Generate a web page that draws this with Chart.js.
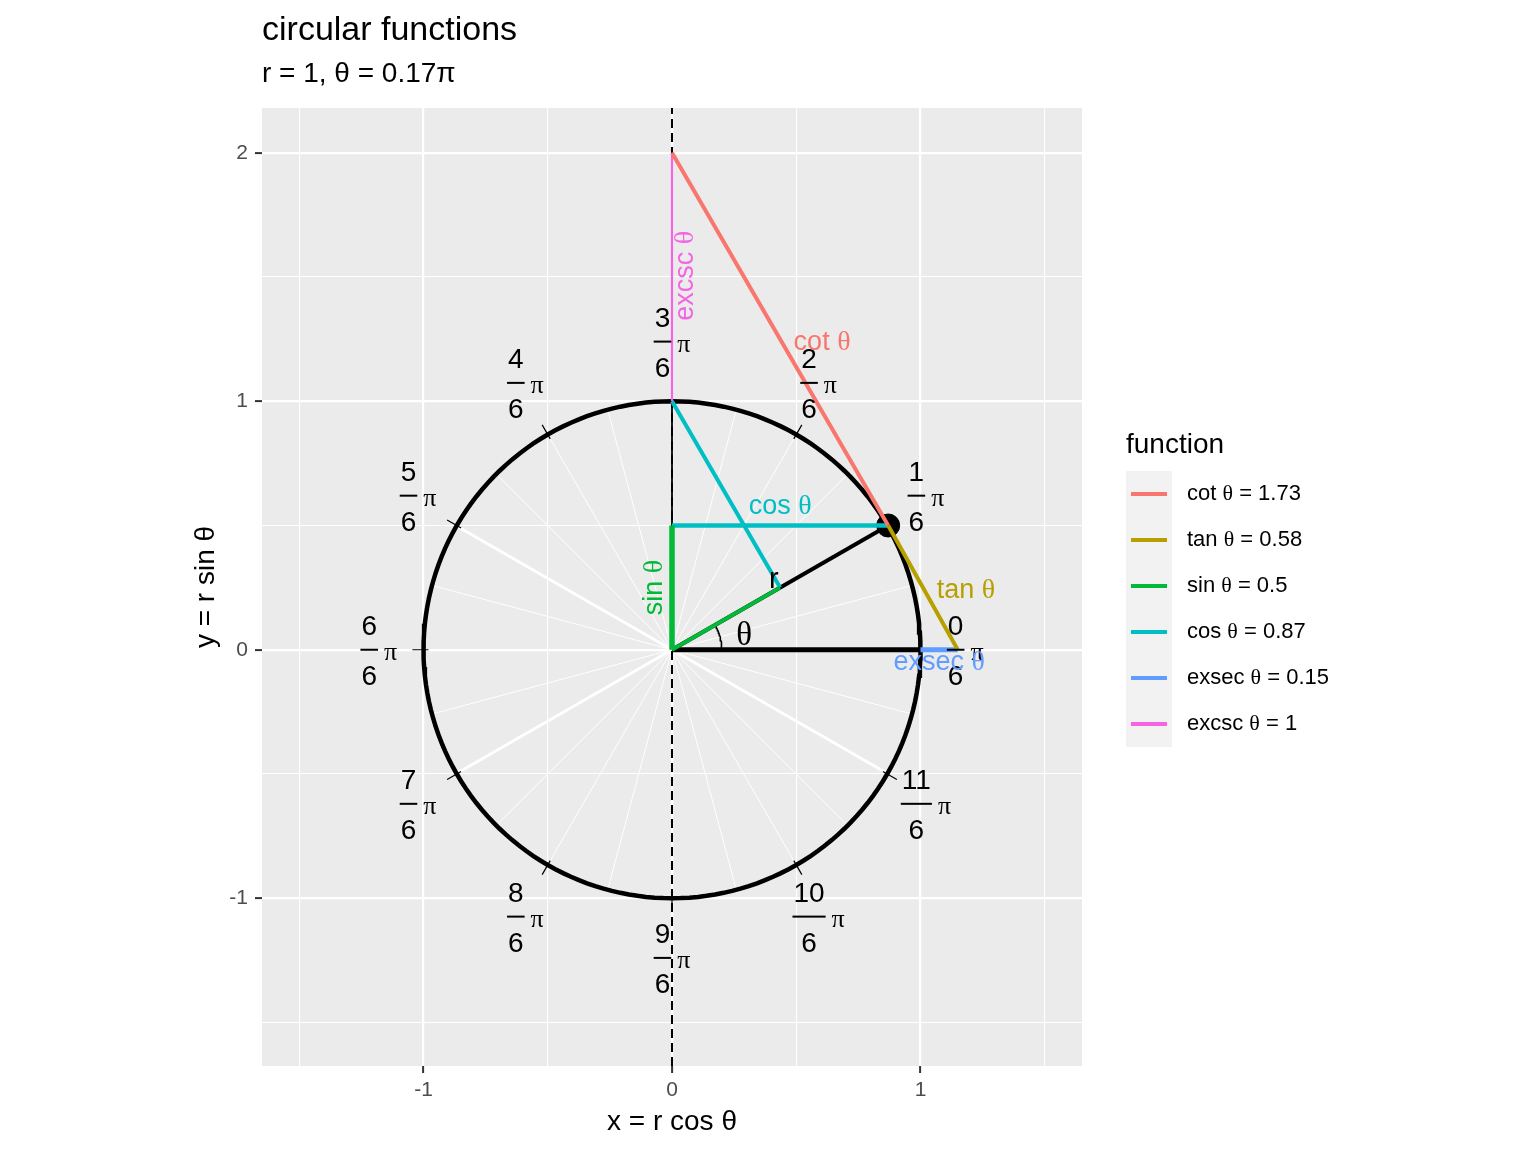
<!DOCTYPE html>
<html>
<head>
<meta charset="utf-8">
<title>circular functions</title>
<script src="https://cdn.jsdelivr.net/npm/chart.js@4.4.1/dist/chart.umd.min.js"></script>
<style>
  body { margin: 0; background: #fff; font-family: "Liberation Sans", Arial, sans-serif; }
  #wrap { position: relative; width: 1536px; height: 1152px; }
  #legend { position: absolute; left: 1126px; top: 424px; color: #000; }
  #legend .title { font-size: 28px; height: 47px; line-height: 40px; }
  #legend .keys { position: absolute; left: 0; top: 47px; width: 46px; background: #F2F2F2; }
  #legend .row { position: relative; height: 46px; width: 260px; }
  #legend .row i { position: absolute; left: 5px; top: 21px; width: 36px; height: 4px; }
  #legend .row span { position: absolute; left: 61px; top: 9px; font-size: 22px; line-height: 26px; white-space: nowrap; }
  .th { font-family: "Liberation Serif", "DejaVu Serif", serif; }
</style>
</head>
<body>
<div id="wrap">
  <canvas id="chart" width="1536" height="1152"></canvas>
  <div id="legend"></div>
</div>
<script>
(() => {
  // --- Data ---
  const R = 1;
  const THETA_PI = 0.17;                       // theta as a multiple of pi
  const FUNC_NAMES = ["cot", "tan", "sin", "cos", "exsec", "excsc"];
  const FUNC_VALUES = [1.73, 0.58, 0.5, 0.87, 0.15, 1];
  const FUNC_COLORS = ["#F8766D", "#B79F00", "#00BA38", "#00BFC4", "#619CFF", "#F564E3"];

  // angle labels round the circle: k/6 pi
  const ANGLE_NUMS = [0, 1, 2, 3, 4, 5, 6, 7, 8, 9, 10, 11];
  const ANGLE_DEN = 6;

  // in-panel text labels
  const LABEL_NAMES = ["excsc", "cot", "cos", "sin", "tan", "exsec"];
  const LABEL_X = [0.085, 0.604, 0.435, -0.04, 1.183, 1.075];
  const LABEL_Y = [1.505, 1.207, 0.547, 0.25, 0.209, -0.08];
  const LABEL_VERTICAL = [true, false, false, true, false, false];

  const X_TICKS = [-1.5, -1, -0.5, 0, 0.5, 1, 1.5];
  const Y_TICKS = [-1.5, -1, -0.5, 0, 0.5, 1, 1.5, 2];
  const X_RANGE = [-1.65, 1.65];
  const Y_RANGE = [-1.675, 2.18];

  const SANS = '"Liberation Sans", Arial, sans-serif';
  const SERIF = '"Liberation Serif", "DejaVu Serif", serif';

  const [COT, TAN, SIN, COS, EXSEC, EXCSC] = FUNC_VALUES;
  const SEC = R + EXSEC, CSC = R + EXCSC;
  const THETA = Math.atan2(SIN, COS);

  // --- Geometry helpers ---
  const polar = (r, a) => ({ x: r * Math.cos(a), y: r * Math.sin(a) });
  const GAP = { x: null, y: null };

  function arc(r, a0, a1, n) {
    const pts = [];
    for (let i = 0; i <= n; i++) pts.push(polar(r, a0 + (a1 - a0) * i / n));
    return pts;
  }

  function seg(data, color, width, order, extra) {
    return Object.assign({
      data, showLine: true, borderColor: color, backgroundColor: color,
      borderWidth: width, pointRadius: 0, pointHoverRadius: 0,
      tension: 0, fill: false, order, borderCapStyle: "butt"
    }, extra || {});
  }

  // spokes every 15 degrees, thicker ones at the reference angles of theta
  const thinSpokes = [], thickSpokes = [], circleTicks = [];
  for (let k = 0; k < 24; k++) {
    thinSpokes.push({ x: 0, y: 0 }, polar(R, k * Math.PI / 12), GAP);
  }
  [THETA, Math.PI - THETA, Math.PI + THETA, 2 * Math.PI - THETA].forEach(a => {
    thickSpokes.push({ x: 0, y: 0 }, polar(R, a), GAP);
  });
  ANGLE_NUMS.forEach(k => {
    const a = k * Math.PI / ANGLE_DEN;
    circleTicks.push(polar(0.98 * R, a), polar(1.045 * R, a), GAP);
  });

  const P = { x: COS, y: SIN };
  const MID = { x: SIN * COS, y: SIN * SIN };

  const datasets = [
    // legend functions (lower order draws on top)
    seg([P, { x: 0, y: CSC }], FUNC_COLORS[0], 4, 1, { label: "cot", inLegend: true }),
    seg([P, { x: SEC, y: 0 }], FUNC_COLORS[1], 4, 1, { label: "tan", inLegend: true }),
    seg([{ x: 0, y: 0 }, { x: 0, y: SIN }], FUNC_COLORS[2], 5.5, 2, { label: "sin", inLegend: true }),
    seg([{ x: 0, y: SIN }, P], FUNC_COLORS[3], 4.5, 2, { label: "cos", inLegend: true }),
    seg([{ x: R, y: 0 }, { x: SEC, y: 0 }], FUNC_COLORS[4], 5, 2, { label: "exsec", inLegend: true }),
    seg([{ x: 0, y: R }, { x: 0, y: CSC }], FUNC_COLORS[5], 2.2, 2, { label: "excsc", inLegend: true }),
    seg([{ x: 0, y: 0 }, MID], FUNC_COLORS[2], 4, 3),
    seg([{ x: 0, y: R }, MID], FUNC_COLORS[3], 4, 3),
    // point on the circle
    { data: [P], showLine: false, pointRadius: 11.5, pointHoverRadius: 11.5, backgroundColor: "#000", borderColor: "#000", order: 4 },
    // black construction lines
    seg([{ x: 0, y: 0 }, P], "#000", 4, 5),
    seg([{ x: 0, y: 0 }, { x: R, y: 0 }], "#000", 5, 5),
    seg([{ x: 0, y: SIN }, { x: 0, y: R }], "#000", 1.8, 5),
    seg(arc(0.2 * R, 0, THETA, 20), "#000", 1.6, 6),
    seg(arc(R, 0, 2 * Math.PI, 180), "#000", 4.5, 7),
    seg(circleTicks, "#000", 1.2, 8),
    seg([{ x: 0, y: Y_RANGE[0] }, { x: 0, y: Y_RANGE[1] }], "#000", 2, 9, { borderDash: [9, 5] }),
    seg(thickSpokes, "#FFFFFF", 2.8, 10),
    seg(thinSpokes, "#FFFFFF", 1, 11)
  ];

  const isMajor = v => Math.abs(v - Math.round(v)) < 1e-9;

  // --- Plugins ---
  const panelBg = {
    id: "panelBg",
    beforeDraw(chart) {
      const { ctx, chartArea: a } = chart;
      ctx.save();
      ctx.fillStyle = "#EBEBEB";
      ctx.fillRect(a.left, a.top, a.right - a.left, a.bottom - a.top);
      ctx.restore();
    }
  };

  function drawRich(ctx, parts, x, y, rot) {
    let w = 0;
    parts.forEach(p => { ctx.font = p.font; p.w = ctx.measureText(p.text).width; w += p.w; });
    ctx.save();
    ctx.translate(x, y);
    ctx.rotate(rot);
    ctx.textAlign = "left";
    ctx.textBaseline = "alphabetic";
    let cur = -w / 2;
    parts.forEach(p => { ctx.font = p.font; ctx.fillText(p.text, cur, 0); cur += p.w; });
    ctx.restore();
  }

  function drawFraction(ctx, num, den, cx, cy) {
    const numFont = "28px " + SANS, piFont = "26px " + SERIF;
    ctx.font = numFont;
    const barW = Math.max(ctx.measureText(num).width, ctx.measureText(den).width) + 2;
    ctx.font = piFont;
    const piW = ctx.measureText("π").width;
    const left = cx - (barW + 6 + piW) / 2;
    const mid = left + barW / 2;
    ctx.fillStyle = "#000";
    ctx.fillRect(left, cy - 1, barW, 2);
    ctx.font = numFont;
    ctx.textAlign = "center";
    ctx.textBaseline = "alphabetic";
    ctx.fillText(num, mid, cy - 15);
    ctx.fillText(den, mid, cy + 35);
    ctx.font = piFont;
    ctx.textAlign = "left";
    ctx.fillText("π", left + barW + 6, cy + 10);
  }

  const panelText = {
    id: "panelText",
    afterDatasetsDraw(chart) {
      const { ctx, scales: { x, y } } = chart;
      ctx.save();
      // angle labels
      ANGLE_NUMS.forEach(k => {
        const a = k * Math.PI / ANGLE_DEN;
        drawFraction(ctx, String(k), String(ANGLE_DEN),
          x.getPixelForValue(1.18 * R * Math.cos(a)), y.getPixelForValue(1.24 * R * Math.sin(a)));
      });
      // function labels
      LABEL_NAMES.forEach((name, i) => {
        ctx.fillStyle = FUNC_COLORS[FUNC_NAMES.indexOf(name)];
        drawRich(ctx, [
          { text: name + " ", font: "27px " + SANS },
          { text: "θ", font: "28px " + SERIF }
        ], x.getPixelForValue(LABEL_X[i]), y.getPixelForValue(LABEL_Y[i]), LABEL_VERTICAL[i] ? -Math.PI / 2 : 0);
      });
      ctx.fillStyle = "#000";
      drawRich(ctx, [{ text: "r", font: "29px " + SANS }], x.getPixelForValue(0.41), y.getPixelForValue(0.25), 0);
      drawRich(ctx, [{ text: "θ", font: "33px " + SERIF }], x.getPixelForValue(0.29), y.getPixelForValue(0.02), 0);
      ctx.restore();
    }
  };

  function axis(range, ticks, size, title, pad) {
    return {
      type: "linear", min: range[0], max: range[1],
      afterBuildTicks: s => { s.ticks = ticks.map(v => ({ value: v })); },
      afterFit: s => { if (s.isHorizontal()) s.height = size; else s.width = size; },
      border: { display: false },
      grid: {
        color: "#FFFFFF",
        lineWidth: c => (c.tick && isMajor(c.tick.value) ? 2.2 : 1.1),
        tickColor: c => (c.tick && isMajor(c.tick.value) ? "#333333" : "rgba(0,0,0,0)"),
        tickLength: 7, tickWidth: 2
      },
      ticks: {
        autoSkip: false, maxRotation: 0, padding: pad, color: "#4D4D4D",
        font: { size: 21, family: SANS },
        callback: v => (isMajor(v) ? String(v) : "")
      },
      title: { display: true, text: title, color: "#000", font: { size: 28, family: SANS }, padding: { top: 4, bottom: 4 } }
    };
  }

  const chart = new Chart(document.getElementById("chart"), {
    type: "scatter",
    data: { datasets },
    options: {
      responsive: false,
      animation: false,
      events: [],
      layout: { padding: { left: 185, right: 454, top: 0, bottom: 9 } },
      scales: {
        x: axis(X_RANGE, X_TICKS, 77, "x = r cos θ", 5),
        y: axis(Y_RANGE, Y_TICKS, 77, "y = r sin θ", 7)
      },
      plugins: {
        legend: { display: false },
        tooltip: { enabled: false },
        title: {
          display: true, text: "circular functions", align: "start", fullSize: false,
          color: "#000", font: { size: 34, family: SANS, weight: "normal" }, padding: { top: 10, bottom: 0 }
        },
        subtitle: {
          display: true, text: "r = " + R + ", θ = " + THETA_PI + "π", align: "start", fullSize: false,
          color: "#000", font: { size: 28, family: SANS }, padding: { top: 6.4, bottom: 17.2 }
        }
      }
    },
    plugins: [panelBg, panelText]
  });

  // Legend built from the chart's own datasets
  const legend = document.getElementById("legend");
  const rows = chart.data.datasets.filter(d => d.inLegend).map(d => {
    const i = FUNC_NAMES.indexOf(d.label);
    return `<div class="row"><i style="background:${d.borderColor}"></i>` +
      `<span>${d.label} <span class="th" style="position:static">θ</span> = ${FUNC_VALUES[i]}</span></div>`;
  }).join("");
  legend.innerHTML = `<div class="title">function</div><div class="keys">${rows}</div>`;
})();
</script>
</body>
</html>
